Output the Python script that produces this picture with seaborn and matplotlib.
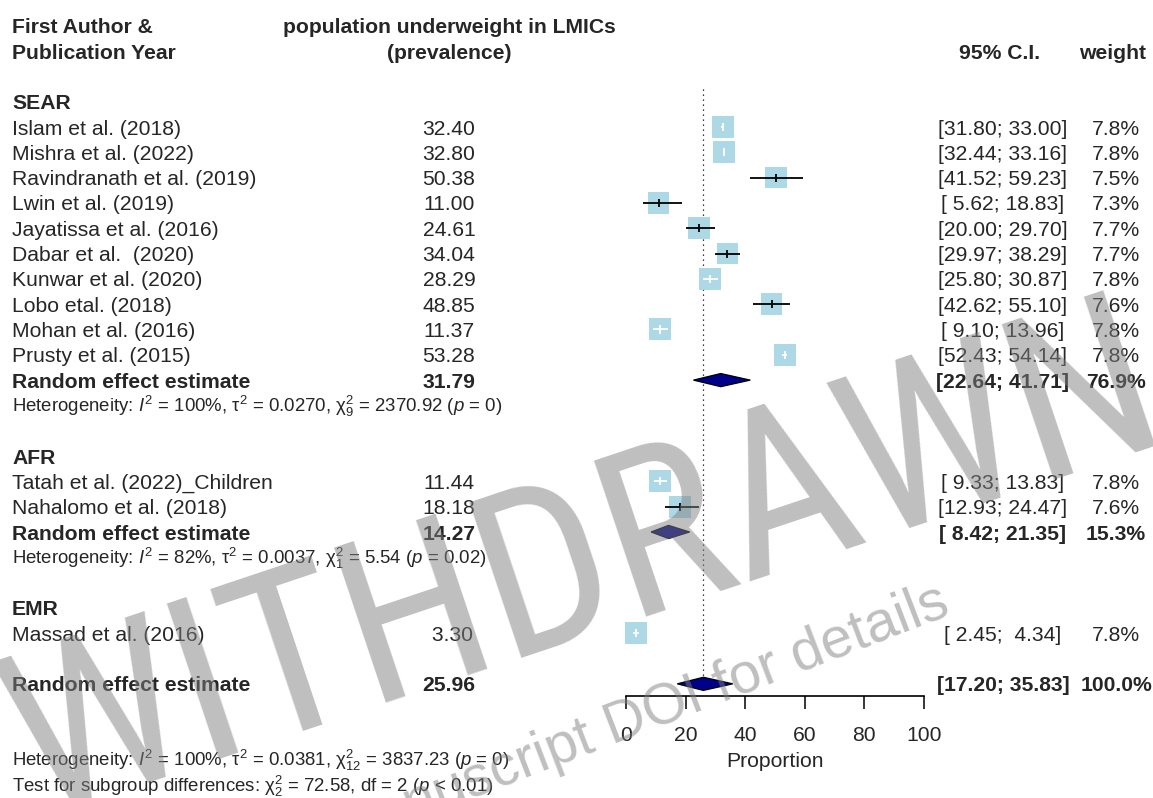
import numpy as np
import pandas as pd
import seaborn as sns
import matplotlib.pyplot as plt
from matplotlib import font_manager as fm
from matplotlib.patches import Polygon

W, H = 1153, 798
ROW0, ROWH = 25.77, 25.31   # pixel y of row 0, pixels per row

# study level data
studies = ["Islam et al. (2018)", "Mishra et al. (2022)", "Ravindranath et al. (2019)",
           "Lwin et al. (2019)", "Jayatissa et al. (2016)", "Dabar et al.  (2020)",
           "Kunwar et al. (2020)", "Lobo etal. (2018)", "Mohan et al. (2016)",
           "Prusty et al. (2015)", "Tatah et al. (2022)_Children", "Nahalomo et al. (2018)",
           "Massad et al. (2016)"]
region = ["SEAR"] * 10 + ["AFR"] * 2 + ["EMR"]
prev = [32.40, 32.80, 50.38, 11.00, 24.61, 34.04, 28.29, 48.85, 11.37, 53.28, 11.44, 18.18, 3.30]
ci_lo = [31.80, 32.44, 41.52, 5.62, 20.00, 29.97, 25.80, 42.62, 9.10, 52.43, 9.33, 12.93, 2.45]
ci_hi = [33.00, 33.16, 59.23, 18.83, 29.70, 38.29, 30.87, 55.10, 13.96, 54.14, 13.83, 24.47, 4.34]
weight = [7.8, 7.8, 7.5, 7.3, 7.7, 7.7, 7.8, 7.6, 7.8, 7.8, 7.8, 7.6, 7.8]

# subgroup pooled estimates
groups = ["SEAR", "AFR", "EMR"]
pool_est = {"SEAR": 31.79, "AFR": 14.27}
pool_lo = {"SEAR": 22.64, "AFR": 8.42}
pool_hi = {"SEAR": 41.71, "AFR": 21.35}
pool_wt = {"SEAR": 76.9, "AFR": 15.3}
pool_het = {
    "SEAR": r"Heterogeneity: $I^2$ = 100%, $\mathrm{\tau}^2$ = 0.0270, $\mathrm{\chi}^2_9$ = 2370.92 ($p$ = 0)",
    "AFR": r"Heterogeneity: $I^2$ = 82%, $\mathrm{\tau}^2$ = 0.0037, $\mathrm{\chi}^2_1$ = 5.54 ($p$ = 0.02)",
}

# overall
all_est, all_lo, all_hi, all_wt = 25.96, 17.20, 35.83, 100.0
all_het = r"Heterogeneity: $I^2$ = 100%, $\mathrm{\tau}^2$ = 0.0381, $\mathrm{\chi}^2_{12}$ = 3837.23 ($p$ = 0)"
sub_test = r"Test for subgroup differences: $\mathrm{\chi}^2_2$ = 72.58, df = 2 ($p$ < 0.01)"

xticks = [0, 20, 40, 60, 80, 100]

df = pd.DataFrame({"study": studies, "region": region, "est": prev,
                   "lo": ci_lo, "hi": ci_hi, "wt": weight})

# ---- row layout
rows, r = [], 3
group_rows, pooled_rows, het_rows = {}, {}, {}
for g in groups:
    group_rows[g] = r
    r += 1
    for _ in range((df.region == g).sum()):
        rows.append(r)
        r += 1
    if g in pool_est:
        pooled_rows[g] = r
        het_rows[g] = r + 1
        r += 2
    r += 1
df["row"] = rows
overall_row = r
r_of = lambda px: (px - ROW0) / ROWH

sns.set_theme(style="white")
plt.rcParams["font.family"] = ["Liberation Sans", "DejaVu Sans"]
plt.rcParams["mathtext.fontset"] = "custom"
plt.rcParams["mathtext.rm"] = "Liberation Sans"
plt.rcParams["mathtext.it"] = "Liberation Sans:italic"
plt.rcParams["mathtext.bf"] = "Liberation Sans:bold"

fig = plt.figure(figsize=(W / 100, H / 100), dpi=100)

# text axes spanning full figure: x in pixels, y in rows
ax_t = fig.add_axes([0, 0, 1, 1])
ax_t.set_xlim(0, W)
ax_t.set_ylim(r_of(H), r_of(0))
ax_t.axis("off")

fs, fs_het = 15.2, 13.4
off, off_het = 0.298, 0.263
x_lab, x_val, x_ci, x_wt = 12, 449, 1003, 1116


def row_text(row, label, val=None, ci=None, wt=None, bold=False):
    fw = "bold" if bold else "normal"
    ax_t.text(x_lab, row + off, label, fontsize=fs, fontweight=fw, ha="left", va="baseline")
    if val is not None:
        ax_t.text(x_val, row + off, f"{val:5.2f}", fontsize=fs, fontweight=fw, ha="center", va="baseline")
    if ci is not None:
        ax_t.text(x_ci, row + off, f"[{ci[0]:5.2f}; {ci[1]:5.2f}]", fontsize=fs, fontweight=fw,
                  ha="center", va="baseline")
    if wt is not None:
        ax_t.text(x_wt, row + off, f"{wt:.1f}%", fontsize=fs, fontweight=fw, ha="center", va="baseline")


# headers
ax_t.text(x_lab, 0 + off, "First Author &", fontsize=fs, fontweight="bold", va="baseline")
ax_t.text(x_lab, 1 + off, "Publication Year", fontsize=fs, fontweight="bold", va="baseline")
ax_t.text(x_val, 0 + off, "population underweight in LMICs", fontsize=fs, fontweight="bold",
          ha="center", va="baseline")
ax_t.text(x_val, 1 + off, "(prevalence)", fontsize=fs, fontweight="bold", ha="center", va="baseline")
ax_t.text(1000, 1 + off, "95% C.I.", fontsize=fs, fontweight="bold", ha="center", va="baseline")
ax_t.text(1113, 1 + off, "weight", fontsize=fs, fontweight="bold", ha="center", va="baseline")

for g in groups:
    ax_t.text(x_lab, group_rows[g] + off, g, fontsize=fs, fontweight="bold", va="baseline")
for _, s in df.iterrows():
    row_text(s.row, s.study, s.est, (s.lo, s.hi), s.wt)
for g in pool_est:
    row_text(pooled_rows[g], "Random effect estimate", pool_est[g], (pool_lo[g], pool_hi[g]),
             pool_wt[g], bold=True)
    ax_t.text(x_lab, het_rows[g] + off_het, pool_het[g], fontsize=fs_het, va="baseline")
row_text(overall_row, "Random effect estimate", all_est, (all_lo, all_hi), all_wt, bold=True)
ax_t.text(x_lab, overall_row + 3 + off_het, all_het, fontsize=fs_het, va="baseline")
ax_t.text(x_lab, overall_row + 4 + off_het, sub_test, fontsize=fs_het, va="baseline")

# ---- forest panel
ax_px_left, ax_px_right, ax_px_bottom = 626, 924, 696
ax_f = fig.add_axes([ax_px_left / W, (H - ax_px_bottom) / H,
                     (ax_px_right - ax_px_left) / W, ax_px_bottom / H])
ax_f.patch.set_alpha(0)
ax_f.set_xlim(0, 100)
ax_f.set_ylim(r_of(ax_px_bottom), r_of(0))

sq_side_px = 22.0            # square side for the largest study weight
wmax = max(weight)
k = (sq_side_px * 0.72) ** 2 / wmax   # marker area (pt^2) per % weight
sns.scatterplot(data=df, x="est", y="row", size="wt",
                sizes=(k * df.wt.min(), k * df.wt.max()), marker="s",
                color="#ADD8E6", linewidth=0, legend=False, ax=ax_f,
                clip_on=False, zorder=2)

px_per_unit = (ax_px_right - ax_px_left) / 100
side_units = sq_side_px * np.sqrt(df.wt / wmax) / px_per_unit
line_col = np.where((df.hi - df.lo) > side_units, "black", "white")
ax_f.hlines(df.row, df.lo, df.hi, colors=line_col, lw=1.3, zorder=3, clip_on=False)
ax_f.vlines(df.est, df.row - 0.16, df.row + 0.16, colors=line_col, lw=1.3, zorder=3, clip_on=False)

dh = 0.26
diamonds = [(pooled_rows[g], pool_est[g], pool_lo[g], pool_hi[g]) for g in pool_est]
diamonds.append((overall_row, all_est, all_lo, all_hi))
for row, e, lo, hi in diamonds:
    ax_f.add_patch(Polygon([(lo, row), (e, row - dh), (hi, row), (e, row + dh)],
                           closed=True, facecolor="#00008B", edgecolor="black",
                           lw=0.9, zorder=4, clip_on=False))

ax_f.vlines(all_est, 2.5, overall_row, colors="black", lw=0.9,
            linestyles=(0, (1, 3)), zorder=1)

for sp in ["top", "right", "left"]:
    ax_f.spines[sp].set_visible(False)
ax_f.spines["bottom"].set_bounds(0, 100)
ax_f.spines["bottom"].set_color("black")
ax_f.spines["bottom"].set_linewidth(1.2)
ax_f.set_yticks([])
ax_f.set_ylabel("")
ax_f.set_xticks(xticks)
ax_f.tick_params(axis="x", direction="out", length=9.4, width=1.1, color="black",
                 labelsize=fs, pad=12.5, bottom=True)
ax_f.set_xlabel("Proportion", fontsize=fs, labelpad=4.5)
ax_f.grid(False)

# ---- withdrawn watermark (narrow face if one is installed, sized to span the figure)
installed = {f.name for f in fm.fontManager.ttflist}
wm_font = next((n for n in ["Liberation Sans Narrow", "Arial Narrow", "Roboto Condensed"]
                if n in installed), "Liberation Sans")
wm_rot = 18.5
span_px = 1190   # horizontal extent of the word
probe = fig.text(0, 0, "WITHDRAWN", fontsize=100, family=wm_font)
w100 = probe.get_window_extent(renderer=fig.canvas.get_renderer()).width
probe.remove()
th = np.deg2rad(wm_rot)
wm_size = span_px / (w100 / 100 * np.cos(th) + 0.716 * 100 / 72 * np.sin(th))
fig.text(584 / W, 1 - 568 / H, "WITHDRAWN", fontsize=wm_size, rotation=wm_rot, family=wm_font,
         ha="center", va="center", rotation_mode="anchor", color="0.5", alpha=0.5, zorder=10)
fig.text(952 / W, 1 - 614 / H, "see manuscript DOI for details", fontsize=41, rotation=21,
         ha="right", va="baseline", rotation_mode="anchor", color="0.5", alpha=0.5, zorder=10)

fig.savefig("out.png", dpi=100, facecolor="white")
